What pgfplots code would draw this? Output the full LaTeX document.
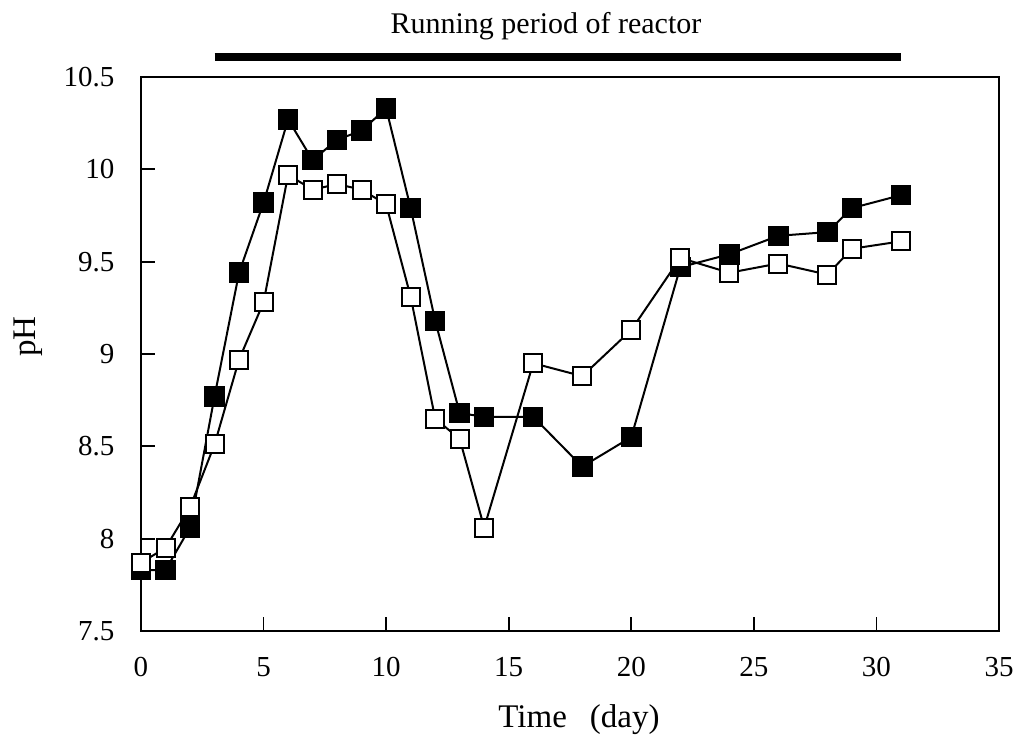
\documentclass[border=0pt]{standalone}
\usepackage{pgfplots}
\pgfplotsset{compat=1.18}
\usepackage{fontspec}
\setmainfont{Liberation Serif}
\begin{document}
\begin{tikzpicture}
\useasboundingbox (0,0) rectangle (1017pt,755pt);
\begin{axis}[
  at={(141pt,124pt)}, anchor=south west,
  width=858pt, height=554pt, scale only axis,
  xmin=0, xmax=35, ymin=7.5, ymax=10.5,
  xtick={0,5,...,35}, ytick={7.5,8,8.5,9,9.5,10,10.5},
  xtick pos=bottom, ytick pos=left,
  tick align=inside, major tick length=14pt,
  axis line style={line width=2pt},
  tick style={line width=1.8pt, black},
  /pgf/number format/assume math mode=true,
  ticklabel style={font=\fontsize{29}{34}\selectfont},
  yticklabel shift=23pt,
  xticklabel shift=23pt,
  xlabel={Time\hspace{0.7em}(day)},
  ylabel={pH},
  label style={font=\fontsize{33}{38}\selectfont},
  xlabel style={at={(axis description cs:0.5105,-0.175)}, anchor=base},
  ylabel style={at={(axis description cs:-0.1317,0.531)}, anchor=center},
  clip=false,
]
\addplot[black, line width=8pt, no marks] coordinates {(3,10.608) (31,10.608)};
\node[font=\fontsize{30}{36}\selectfont, anchor=base] at (axis description cs:0.472,1.0794) {Running period of reactor};
\addplot[black, line width=2pt, mark=square*, mark size=9.5pt, mark options={fill=black, line width=1.5pt}] coordinates {
(0,7.83) (1,7.83) (2,8.06) (3,8.77) (4,9.44) (5,9.82) (6,10.27) (7,10.05) (8,10.16) (9,10.21) (10,10.33) (11,9.79) (12,9.18) (13,8.68) (14,8.66) (16,8.66) (18,8.39) (20,8.55) (22,9.47) (24,9.54) (26,9.64) (28,9.66) (29,9.79) (31,9.86)
};
\addplot[black, line width=2pt, mark=square*, mark size=9pt, mark options={fill=white, line width=2pt}] coordinates {
(0,7.87) (1,7.95) (2,8.17) (3,8.51) (4,8.97) (5,9.28) (6,9.97) (7,9.89) (8,9.92) (9,9.89) (10,9.81) (11,9.31) (12,8.65) (13,8.54) (14,8.06) (16,8.95) (18,8.88) (20,9.13) (22,9.52) (24,9.44) (26,9.49) (28,9.43) (29,9.57) (31,9.61)
};
\end{axis}
\end{tikzpicture}
\end{document}
